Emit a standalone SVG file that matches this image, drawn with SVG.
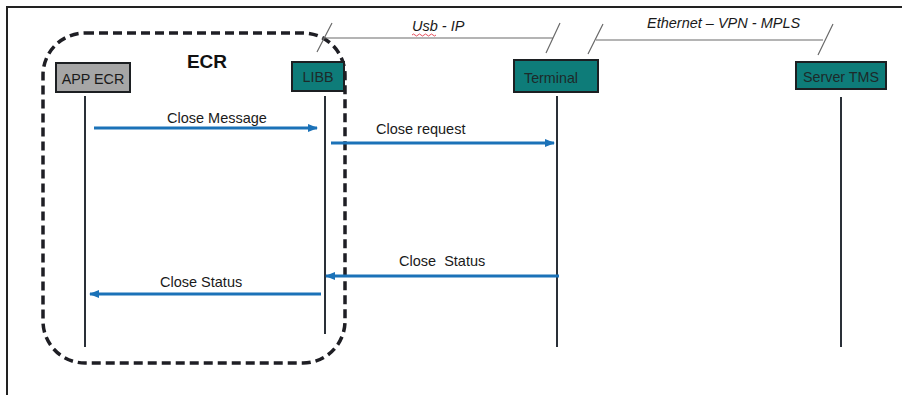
<svg xmlns="http://www.w3.org/2000/svg" width="902" height="395" viewBox="0 0 902 395">
  <style>
    .frame { stroke: #222; stroke-width: 2; fill: none; }
    .group { fill: none; stroke: #1e1e24; stroke-width: 3.5; stroke-dasharray: 9 5; }
    .box { stroke: #1c1f22; stroke-width: 2; }
    .app { fill: #a6a6a6; }
    .teal { fill: #0e7c79; }
    .label { font-family: "Liberation Sans", Arial, sans-serif; font-size: 14.5px; fill: #1a1a1a; }
    .boxlabel { font-family: "Liberation Sans", Arial, sans-serif; font-size: 14.3px; fill: #1d2a2a; text-anchor: middle; }
    .title { font-family: "Liberation Sans", Arial, sans-serif; font-size: 19px; font-weight: bold; fill: #111; text-anchor: middle; }
    .link { font-family: "Liberation Sans", Arial, sans-serif; font-size: 14.5px; font-style: italic; fill: #1a1a1a; }
    .lifeline { stroke: #2a3038; stroke-width: 2; }
    .wire { stroke: #6a6a6a; stroke-width: 1.2; fill: none; }
    .msg { stroke: #1b72b8; stroke-width: 3; fill: none; }
  </style>
  <defs>
    <marker id="arrow" viewBox="0 0 10 8" refX="9" refY="4" markerWidth="10" markerHeight="8" markerUnits="userSpaceOnUse" orient="auto">
      <path d="M0,0 L10,4 L0,8 Z" fill="#1b72b8"/>
    </marker>
  </defs>

  <rect width="902" height="395" fill="#fff"/>

  <!-- outer frame (top and left edges) -->
  <path class="frame" d="M7,395 V7 H902"/>

  <!-- ECR group -->
  <g id="ecr-group">
    <rect class="group" x="43" y="33" width="302" height="330" rx="42" ry="42"/>
    <text class="title" x="207" y="68">ECR</text>
  </g>

  <!-- link annotations -->
  <g id="link-usb">
    <path class="wire" d="M322,38 H553 M317,52 L332,23 M546,53 L560,23"/>
    <text class="link" x="412" y="31">Usb - IP</text>
    <path d="M412,35 q1.5,-2 3,0 t3,0 t3,0 t3,0 t3,0 t3,0 t3,0 t3,0" fill="none" stroke="#d23" stroke-width="0.8"/>
  </g>
  <g id="link-ethernet">
    <path class="wire" d="M596,40 H823 M588,54 L603,24 M818,55 L833,24"/>
    <text class="link" x="647" y="28">Ethernet – VPN - MPLS</text>
  </g>

  <!-- participants -->
  <g id="app-ecr">
    <rect class="box app" x="56" y="63" width="74" height="29"/>
    <text class="boxlabel" x="93" y="84" style="fill:#1a1a1a">APP ECR</text>
    <line class="lifeline" x1="85" y1="96" x2="85" y2="347"/>
  </g>
  <g id="libb">
    <rect class="box teal" x="292" y="62" width="52" height="29"/>
    <text class="boxlabel" x="318" y="82">LIBB</text>
    <line class="lifeline" x1="325" y1="96" x2="325" y2="334"/>
  </g>
  <g id="terminal">
    <rect class="box teal" x="514" y="60" width="84" height="32"/>
    <text class="boxlabel" x="551" y="83">Terminal</text>
    <line class="lifeline" x1="557" y1="96" x2="557" y2="347"/>
  </g>
  <g id="server-tms">
    <rect class="box teal" x="796" y="62" width="90" height="27"/>
    <text class="boxlabel" x="841" y="82">Server TMS</text>
    <line class="lifeline" x1="841" y1="97" x2="841" y2="347"/>
  </g>

  <!-- messages -->
  <g id="connectors">
    <line class="msg" x1="94" y1="128" x2="317" y2="128" marker-end="url(#arrow)"/>
    <text class="label" x="167" y="123">Close Message</text>

    <line class="msg" x1="331" y1="143" x2="554" y2="143" marker-end="url(#arrow)"/>
    <text class="label" x="376" y="134">Close request</text>

    <line class="msg" x1="559" y1="276" x2="326" y2="276" marker-end="url(#arrow)"/>
    <text class="label" x="399" y="266" xml:space="preserve">Close  Status</text>

    <line class="msg" x1="321" y1="294" x2="90" y2="294" marker-end="url(#arrow)"/>
    <text class="label" x="160" y="287">Close Status</text>
  </g>
</svg>
